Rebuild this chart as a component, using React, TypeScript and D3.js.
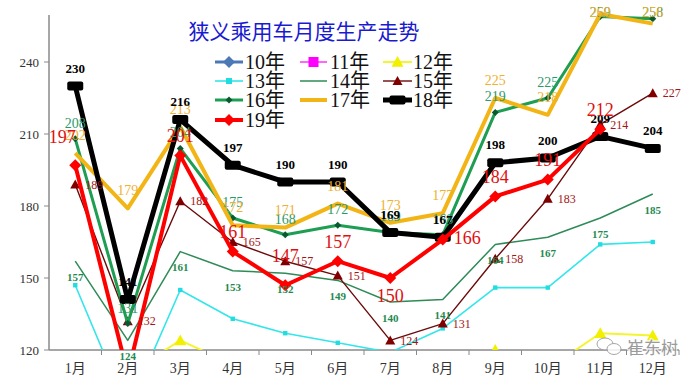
import React from 'react';
import * as d3 from 'd3';

const months = ['1月', '2月', '3月', '4月', '5月', '6月', '7月', '8月', '9月', '10月', '11月', '12月'];
const yTicks = [120, 150, 180, 210, 240];
const title = '狭义乘用车月度生产走势';

const y10 = [88, 70, 99, 92, 87, 82, 77, 80, 96, 94, 103, 108];
const y11 = [105, 86, 112, 100, 94, 98, 92, 100, 113, 110, 116, 118];
const y12 = [104, 110, 124, 114, 113, 112, 106, 111, 120, 112, 127, 126];
const y13 = [147, 95, 145, 133, 127, 123, 119, 129, 146, 146, 164, 165];
const y14 = [157, 124, 161, 153, 152, 149, 140, 141, 164, 167, 175, 185];
const y15 = [189, 132, 182, 165, 157, 151, 124, 131, 158, 183, 214, 227];
const y16 = [208, 131, 204, 175, 168, 172, 169, 168, 219, 225, 259, 258];
const y17 = [202, 179, 213, 172, 171, 181, 173, 177, 225, 218, 260, 256];
const y18 = [230, 141, 216, 197, 190, 190, 169, 167, 198, 200, 209, 204];
const y19 = [197, 110, 201, 161, 147, 157, 150, 166, 184, 191, 212, null];

type Marker = 'diamond' | 'square' | 'triangle' | 'small' | 'bar' | 'none';
type LabelStyle = { color: string; size: number; weight: string; mode: 'above' | 'below' | 'right'; dy: number } | null;

interface Series {
  name: string;
  values: (number | null)[];
  color: string;
  width: number;
  marker: Marker;
  mSize: number;
  mColor: string;
  label: LabelStyle;
}

const series: Series[] = [
  { name: '10年', values: y10, color: '#4a79b5', width: 3, marker: 'diamond', mSize: 6, mColor: '#4a79b5', label: null },
  { name: '11年', values: y11, color: '#ff33ff', width: 1.5, marker: 'square', mSize: 5, mColor: '#ff00ff', label: null },
  { name: '12年', values: y12, color: '#f4f430', width: 2, marker: 'triangle', mSize: 6, mColor: '#f0f000', label: null },
  { name: '13年', values: y13, color: '#33e6ea', width: 1.6, marker: 'small', mSize: 2.2, mColor: '#22dde0', label: null },
  { name: '14年', values: y14, color: '#2e8b57', width: 1.5, marker: 'none', mSize: 0, mColor: '#2e8b57', label: { color: '#1f8a4f', size: 11, weight: 'bold', mode: 'below', dy: 16 } },
  { name: '15年', values: y15, color: '#6b0a0a', width: 1.4, marker: 'triangle', mSize: 5, mColor: '#800000', label: { color: '#a31616', size: 12, weight: 'normal', mode: 'right', dy: 0 } },
  { name: '16年', values: y16, color: '#1e9e52', width: 3, marker: 'diamond', mSize: 3.5, mColor: '#0a5a30', label: { color: '#2a9a6a', size: 14, weight: 'normal', mode: 'above', dy: -16 } },
  { name: '17年', values: y17, color: '#f2b515', width: 4, marker: 'none', mSize: 0, mColor: '#f2b515', label: { color: '#f0b030', size: 14, weight: 'normal', mode: 'above', dy: -18 } },
  { name: '18年', values: y18, color: '#000000', width: 5, marker: 'bar', mSize: 8, mColor: '#000000', label: { color: '#000000', size: 13, weight: 'bold', mode: 'above', dy: -18 } },
  { name: '19年', values: y19, color: '#ff0000', width: 4, marker: 'diamond', mSize: 6, mColor: '#ff0000', label: { color: '#e01010', size: 18, weight: 'normal', mode: 'above', dy: -20 } },
];

// placement overrides for the large 19年 labels (month index -> side)
const place19: Record<number, string> = { 0: 'left', 4: 'high', 6: 'below', 7: 'right' };

const W = 700;
const H = 377;
const left = 49;
const right = 679;
const bottom = 350;
const top = 14;

const x = d3.scaleBand<string>().domain(months).range([left, right]);
const y = d3.scaleLinear().domain([120, 260]).range([bottom, top]);
const cx = (i: number) => (x(months[i]) as number) + x.bandwidth() / 2;

function markerNode(m: Marker, px: number, py: number, s: number, color: string, key: string) {
  switch (m) {
    case 'diamond':
      return <path key={key} d={`M${px},${py - s}L${px + s},${py}L${px},${py + s}L${px - s},${py}Z`} fill={color} />;
    case 'square':
      return <rect key={key} x={px - s} y={py - s} width={2 * s} height={2 * s} fill={color} />;
    case 'triangle':
      return <path key={key} d={`M${px},${py - s}L${px + s},${py + s * 0.8}L${px - s},${py + s * 0.8}Z`} fill={color} />;
    case 'small':
      return <rect key={key} x={px - s} y={py - s} width={2 * s} height={2 * s} fill={color} />;
    case 'bar':
      return <rect key={key} x={px - s} y={py - s / 2 - 0.5} width={2 * s} height={s + 1} rx={2} fill={color} />;
    default:
      return null;
  }
}

const legendCols = [
  { lx0: 215, lx1: 243, tx: 245 },
  { lx0: 300, lx1: 327, tx: 330 },
  { lx0: 383, lx1: 412, tx: 413 },
];
const legendRows = [62, 81, 100, 120];

export default function App() {
  const line = d3
    .line<number | null>()
    .defined((d) => d !== null)
    .x((_, i) => cx(i))
    .y((d) => y(d as number));

  const serif = '"Liberation Serif", "DejaVu Serif", "Noto Sans CJK SC", serif';

  return (
    <svg width={W} height={H} style={{ position: 'absolute', left: 0, top: 0, background: '#fff' }}>
      <defs>
        <clipPath id="plot">
          <rect x={left} y={0} width={right - left + 10} height={bottom - 0} />
        </clipPath>
      </defs>
      <rect x={0} y={0} width={W} height={H} fill="#fff" />

      {/* axes */}
      <line x1={left} x2={left} y1={15} y2={bottom} stroke="#8a8a8a" strokeWidth={1.5} />
      <line x1={left} x2={right} y1={bottom} y2={bottom} stroke="#8a8a8a" strokeWidth={1.5} />
      {yTicks.map((t) => (
        <g key={t}>
          <line x1={left - 5} x2={left} y1={y(t)} y2={y(t)} stroke="#8a8a8a" />
          <text x={39} y={y(t) + 4.5} textAnchor="end" fontSize={13} fontFamily={serif} fill="#333">
            {t}
          </text>
        </g>
      ))}
      {months.map((m, i) => (
        <g key={m}>
          <line x1={(x(m) as number) + x.bandwidth()} x2={(x(m) as number) + x.bandwidth()} y1={bottom} y2={bottom + 5} stroke="#8a8a8a" />
          <text x={cx(i)} y={373} textAnchor="middle" fontSize={14} fontFamily={serif} fill="#333">
            {m}
          </text>
        </g>
      ))}

      {/* title */}
      <text x={304} y={39} textAnchor="middle" fontSize={21} fontFamily='"Noto Sans CJK SC", sans-serif' fill="#1a1ad0">
        {title}
      </text>

      {/* legend */}
      {series.map((s, i) => {
        const col = legendCols[i % 3];
        const ry = legendRows[Math.floor(i / 3)];
        const mid = (col.lx0 + col.lx1) / 2;
        return (
          <g key={s.name}>
            <line x1={col.lx0} x2={col.lx1} y1={ry} y2={ry} stroke={s.color} strokeWidth={s.width} />
            {markerNode(s.marker, mid, ry, s.marker === 'bar' ? 8 : Math.max(s.mSize, 3), s.mColor, 'lm' + i)}
            <text x={col.tx} y={ry + 7} fontSize={20} fontFamily={serif} fill="#111">
              {s.name}
            </text>
          </g>
        );
      })}

      {/* lines and markers */}
      <g clipPath="url(#plot)">
        {series.map((s) => (
          <g key={s.name}>
            <path d={line(s.values) || ''} fill="none" stroke={s.color} strokeWidth={s.width} strokeLinejoin="round" />
            {s.values.map((v, i) => (v === null ? null : markerNode(s.marker, cx(i), y(v), s.mSize, s.mColor, s.name + i)))}
          </g>
        ))}
      </g>

      {/* data labels */}
      {series.map((s) =>
        s.label
          ? s.values.map((v, i) => {
              if (v === null || v < 120) return null;
              const L = s.label as NonNullable<LabelStyle>;
              let px = cx(i);
              let py = y(v);
              let anchor: 'middle' | 'start' | 'end' = 'middle';
              let cy = py + L.dy;
              if (L.mode === 'right') {
                px += 10;
                anchor = 'start';
                cy = py;
              }
              if (s.name === '19年') {
                const p = place19[i];
                if (p === 'left') {
                  px -= 13;
                  cy = py - 29;
                } else if (p === 'high') {
                  cy = py - 30;
                } else if (p === 'below') {
                  cy = py + 18;
                } else if (p === 'right') {
                  px += 11;
                  anchor = 'start';
                  cy = py - 2;
                }
              }
              cy = Math.max(cy, 12);
              return (
                <text
                  key={s.name + 'l' + i}
                  x={px}
                  y={cy + L.size * 0.35}
                  textAnchor={anchor}
                  fontSize={L.size}
                  fontWeight={L.weight}
                  fontFamily={serif}
                  fill={L.color}
                >
                  {v}
                </text>
              );
            })
          : null
      )}

      {/* watermark */}
      <g opacity={0.85}>
        <ellipse cx={605} cy={344} rx={8} ry={6} fill="#fff" stroke="#999" strokeWidth={1} />
        <ellipse cx={614} cy={349} rx={7} ry={5.5} fill="#fff" stroke="#999" strokeWidth={1} />
        <text x={627} y={354} fontSize={17} fontFamily='"Noto Sans CJK SC", sans-serif' fill="#8a8a8a" stroke="#fff" strokeWidth={2} paintOrder="stroke">
          崔东树
        </text>
      </g>
    </svg>
  );
}
